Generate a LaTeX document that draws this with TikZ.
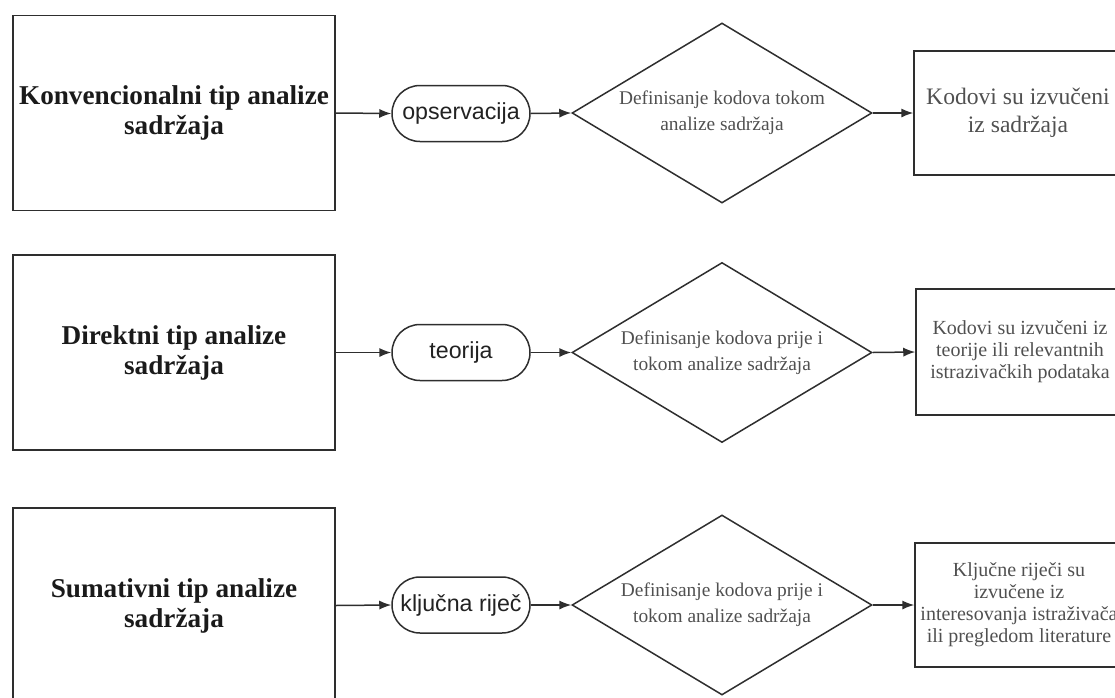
\documentclass[tikz,border=0pt]{standalone}
\usepackage{fontspec}
\setmainfont{Liberation Serif}
\setsansfont{Liberation Sans}
\usetikzlibrary{shapes.geometric,arrows.meta}
\definecolor{linec}{HTML}{2E2E2E}
\definecolor{boldtxt}{HTML}{1A1A1A}
\definecolor{graytxt}{HTML}{505050}
\definecolor{pilltxt}{HTML}{222222}
\tikzset{
  bigbox/.style={draw=linec, line width=0.75pt, rectangle, inner sep=0pt,
    minimum width=161pt, minimum height=97.5pt, align=center, text=boldtxt,
    font={\fontsize{13.6}{15}\selectfont\bfseries}},
  pill/.style={draw=linec, line width=0.75pt, rectangle, rounded corners=14pt, inner sep=0pt,
    minimum width=69pt, minimum height=28pt, text=pilltxt,
    font={\sffamily\fontsize{11.6}{13}\selectfont}},
  dia/.style={draw=linec, line width=0.75pt, diamond, inner sep=0pt,
    minimum width=150pt, minimum height=90pt},
  diatext/.style={align=center, text=graytxt, inner sep=0pt,
    font={\fontsize{9.7}{13}\selectfont}},
  outbox/.style={draw=linec, line width=0.75pt, rectangle, inner sep=0pt,
    minimum width=104pt, align=center, text=graytxt},
  flow/.style={draw=linec, line width=0.75pt, -{Latex[length=6pt,width=4.6pt]}}
}
\begin{document}
\begin{tikzpicture}[x=0.5pt,y=-0.5pt]
\useasboundingbox (0,0) rectangle (1115,697);
\clip (0,0) rectangle (1115,697);

% Row 1
\node[bigbox] (b1) at (174,113) {Konvencionalni tip analize\\sadržaja};
\node[pill] (p1) at (461,113.5) {opservacija};
\node[dia] (d1) at (722,113) {};
\node[diatext] (t1) at (d1.center) {Definisanje kodova tokom\\analize sadržaja};
\node[outbox, minimum height=62pt, font={\fontsize{11.8}{14}\selectfont}] (o1) at (1018,113) {Kodovi su izvučeni\\iz sadržaja};

% Row 2
\node[bigbox] (b2) at (174,352.5) {Direktni tip analize\\sadržaja};
\node[pill] (p2) at (461,352.5) {teorija};
\node[dia] (d2) at (722,352.5) {};
\node[diatext] (t2) at (d2.center) {Definisanje kodova prije i\\tokom analize sadržaja};
\node[outbox, minimum height=63pt, font={\fontsize{10}{11}\selectfont}] (o2) at (1020,352) {Kodovi su izvučeni iz\\teorije ili relevantnih\\istrazivačkih podataka};

% Row 3
\node[bigbox] (b3) at (174,605.5) {Sumativni tip analize\\sadržaja};
\node[pill] (p3) at (461,605) {ključna riječ};
\node[dia] (d3) at (722,605) {};
\node[diatext] (t3) at (d3.center) {Definisanje kodova prije i\\tokom analize sadržaja};
\node[outbox, minimum height=62pt, font={\fontsize{10}{11}\selectfont}] (o3) at (1019,605) {Ključne riječi su\\izvučene iz\\interesovanja istraživača\\ili pregledom literature};

% Connectors
\foreach \r in {1,2,3}{
  \draw[flow] (b\r.east) -- (p\r.west);
  \draw[flow] (p\r.east) -- (d\r.west);
  \draw[flow] (d\r.east) -- (o\r.west);
}
\end{tikzpicture}
\end{document}
